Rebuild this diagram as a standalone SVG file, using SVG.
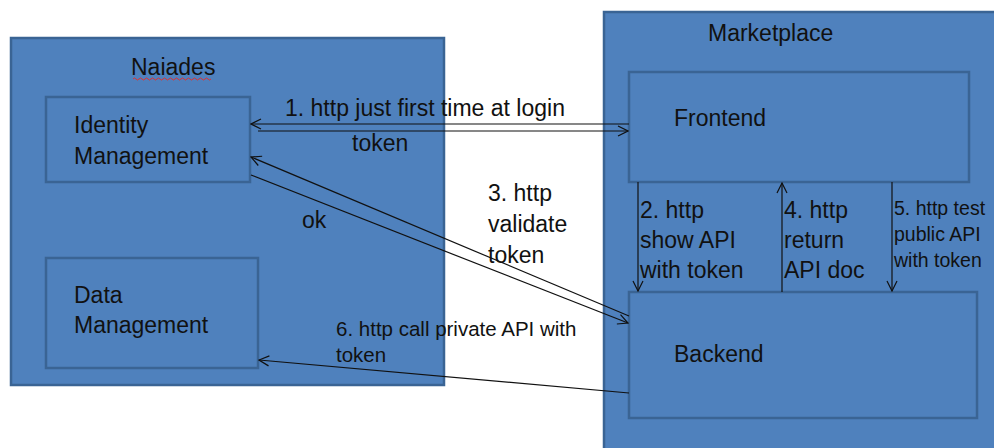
<svg xmlns="http://www.w3.org/2000/svg" width="994" height="448" viewBox="0 0 994 448">
<defs>
<style>
.box{fill:#4F81BD;stroke:#3A6494;stroke-width:2.5}
.t{font-family:"Liberation Sans",Arial,sans-serif;font-size:23px;fill:#111}
.s{font-size:20.5px}
.xs{font-size:19.5px}
.c{stroke:#111;stroke-width:1.2;fill:none}
</style>
<marker id="ah" viewBox="0 0 12 12" refX="11" refY="6" markerWidth="12" markerHeight="12" markerUnits="userSpaceOnUse" orient="auto">
<path d="M1,1 L11,6 L1,11" fill="none" stroke="#111" stroke-width="1.2"/>
</marker>
</defs>
<rect width="994" height="448" fill="#fff"/>
<g id="naiades">
<rect class="box" x="11" y="38" width="433" height="347"/>
<text class="t" x="131" y="75">Naiades</text>
<path d="M133,79 q1.5,-2 3,0 t3,0 t3,0 t3,0 t3,0 t3,0 t3,0 t3,0 t3,0 t3,0 t3,0 t3,0 t3,0 t3,0 t3,0 t3,0 t3,0 t3,0 t3,0 t3,0 t3,0 t3,0 t3,0 t3,0 t3,0 t3,0" fill="none" stroke="#e03030" stroke-width="1"/>
</g>
<g id="identity">
<rect class="box" x="46" y="97" width="204" height="85"/>
<text class="t" x="74" y="133">Identity</text>
<text class="t" x="74" y="164">Management</text>
</g>
<g id="data">
<rect class="box" x="46" y="258" width="212" height="110"/>
<text class="t" x="74" y="303">Data</text>
<text class="t" x="74" y="333">Management</text>
</g>
<g id="marketplace">
<rect class="box" x="604" y="12" width="392" height="440"/>
<text class="t" x="708" y="41">Marketplace</text>
</g>
<g id="frontend">
<rect class="box" x="629" y="72" width="340" height="110"/>
<text class="t" x="674" y="126">Frontend</text>
</g>
<g id="backend">
<rect class="box" x="629" y="292" width="348" height="126"/>
<text class="t" x="674" y="362">Backend</text>
</g>
<g id="connectors">
<line class="c" x1="629" y1="124" x2="251" y2="124" marker-end="url(#ah)"/>
<line class="c" x1="258" y1="131" x2="628" y2="131" marker-end="url(#ah)"/>
<line class="c" x1="629" y1="316" x2="251" y2="157" marker-end="url(#ah)"/>
<line class="c" x1="251" y1="175" x2="628" y2="323" marker-end="url(#ah)"/>
<line class="c" x1="638" y1="182" x2="638" y2="291" marker-end="url(#ah)"/>
<line class="c" x1="782" y1="292" x2="782" y2="183" marker-end="url(#ah)"/>
<line class="c" x1="892" y1="182" x2="892" y2="291" marker-end="url(#ah)"/>
<line class="c" x1="629" y1="393" x2="259" y2="360" marker-end="url(#ah)"/>
</g>
<g id="labels">
<text class="t" x="285" y="116">1. http just first time at login</text>
<text class="t" x="352" y="151">token</text>
<text class="t" x="302" y="228">ok</text>
<text class="t" x="488" y="201">3. http</text>
<text class="t" x="488" y="232">validate</text>
<text class="t" x="488" y="263">token</text>
<text class="t" x="640" y="218">2. http</text>
<text class="t" x="640" y="248">show API</text>
<text class="t" x="640" y="278">with token</text>
<text class="t" x="784" y="218">4. http</text>
<text class="t" x="784" y="248">return</text>
<text class="t" x="784" y="278">API doc</text>
<text class="t xs" x="894" y="215">5. http test</text>
<text class="t xs" x="894" y="241">public API</text>
<text class="t xs" x="894" y="267">with token</text>
<text class="t s" x="336" y="336">6. http call private API with</text>
<text class="t s" x="336" y="362">token</text>
</g>
</svg>
